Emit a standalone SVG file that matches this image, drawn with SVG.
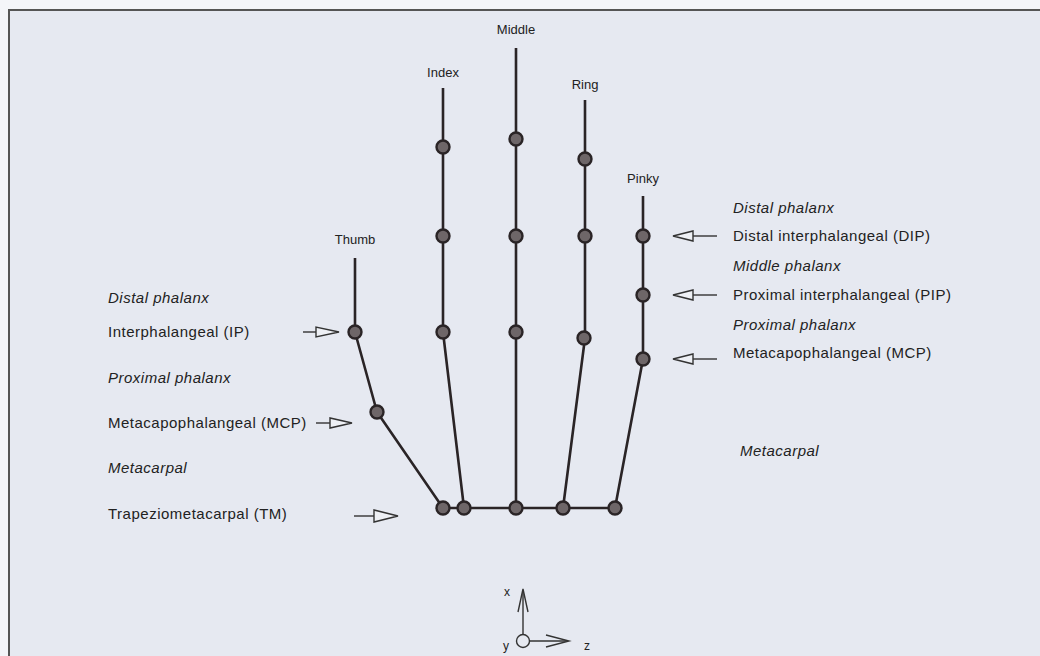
<svg xmlns="http://www.w3.org/2000/svg" width="1040" height="656" viewBox="0 0 1040 656">
<style>
text{font-family:"Liberation Sans",Arial,sans-serif;fill:#222;}
.lab{font-size:15px;letter-spacing:0.5px;}
.it{font-style:italic;}
.fin{font-size:13px;text-anchor:middle;}
.ax{font-size:12px;}
.bone{stroke:#2a2426;stroke-width:2.6;fill:none;stroke-linejoin:round;}
.jt{fill:#6e6668;stroke:#2a2426;stroke-width:2.4;}
.arr{stroke:#333;stroke-width:1.4;fill:none;}
.tri{stroke:#333;stroke-width:1.4;fill:#eef0f5;}
</style>
<rect x="0" y="0" width="1040" height="656" fill="#f4f5f9"/>
<rect x="9" y="10" width="1040" height="660" fill="#e6e9f1" stroke="#555" stroke-width="2"/>
<g id="connectors">
<polyline class="bone" points="355,258 355,332 377,412 443,508"/>
<polyline class="bone" points="443,88 443,332 464,508"/>
<polyline class="bone" points="516,48 516,508"/>
<polyline class="bone" points="585,100 585,338 563,508"/>
<polyline class="bone" points="643,196 643,359 615,508"/>
<line class="bone" x1="443" y1="508" x2="615" y2="508"/>
</g>
<g id="thumb">
<text class="fin" x="355" y="244">Thumb</text>
<circle class="jt" cx="355" cy="332" r="6.5"/>
<circle class="jt" cx="377" cy="412" r="6.5"/>
<circle class="jt" cx="443" cy="508" r="6.5"/>
</g>
<g id="index">
<text class="fin" x="443" y="77">Index</text>
<circle class="jt" cx="443" cy="147" r="6.5"/>
<circle class="jt" cx="443" cy="236" r="6.5"/>
<circle class="jt" cx="443" cy="332" r="6.5"/>
<circle class="jt" cx="464" cy="508" r="6.5"/>
</g>
<g id="middle">
<text class="fin" x="516" y="34">Middle</text>
<circle class="jt" cx="516" cy="139" r="6.5"/>
<circle class="jt" cx="516" cy="236" r="6.5"/>
<circle class="jt" cx="516" cy="332" r="6.5"/>
<circle class="jt" cx="516" cy="508" r="6.5"/>
</g>
<g id="ring">
<text class="fin" x="585" y="89">Ring</text>
<circle class="jt" cx="585" cy="159" r="6.5"/>
<circle class="jt" cx="585" cy="236" r="6.5"/>
<circle class="jt" cx="584" cy="338" r="6.5"/>
<circle class="jt" cx="563" cy="508" r="6.5"/>
</g>
<g id="pinky">
<text class="fin" x="643" y="183">Pinky</text>
<circle class="jt" cx="643" cy="236" r="6.5"/>
<circle class="jt" cx="643" cy="295" r="6.5"/>
<circle class="jt" cx="643" cy="359" r="6.5"/>
<circle class="jt" cx="615" cy="508" r="6.5"/>
</g>
<g id="left-labels">
<text class="lab it" x="108" y="303">Distal phalanx</text>
<text class="lab" x="108" y="337">Interphalangeal (IP)</text>
<text class="lab it" x="108" y="383">Proximal phalanx</text>
<text class="lab" x="108" y="428">Metacapophalangeal (MCP)</text>
<text class="lab it" x="108" y="473">Metacarpal</text>
<text class="lab" x="108" y="519">Trapeziometacarpal (TM)</text>
</g>
<g id="left-arrows">
<line class="arr" x1="303" y1="332" x2="316" y2="332"/>
<polygon class="tri" points="316,327 316,337 339,332"/>
<line class="arr" x1="316" y1="423" x2="330" y2="423"/>
<polygon class="tri" points="330,418 330,428 352,423"/>
<line class="arr" x1="354" y1="516" x2="374" y2="516"/>
<polygon class="tri" points="374,510 374,522 398,516"/>
</g>
<g id="right-labels">
<text class="lab it" x="733" y="213">Distal phalanx</text>
<text class="lab" x="733" y="241">Distal interphalangeal (DIP)</text>
<text class="lab it" x="733" y="271">Middle phalanx</text>
<text class="lab" x="733" y="300">Proximal interphalangeal (PIP)</text>
<text class="lab it" x="733" y="330">Proximal phalanx</text>
<text class="lab" x="733" y="358">Metacapophalangeal (MCP)</text>
<text class="lab it" x="740" y="456">Metacarpal</text>
</g>
<g id="right-arrows">
<line class="arr" x1="693" y1="236" x2="717" y2="236"/>
<polygon class="tri" points="693,231 693,241 673,236"/>
<line class="arr" x1="693" y1="295" x2="717" y2="295"/>
<polygon class="tri" points="693,290 693,300 673,295"/>
<line class="arr" x1="693" y1="359" x2="717" y2="359"/>
<polygon class="tri" points="693,354 693,364 673,359"/>
</g>
<g id="axes">
<line class="arr" x1="523" y1="635" x2="523" y2="590"/>
<polyline class="arr" points="518,612 523,589 528,612"/>
<circle cx="523" cy="641" r="6.5" fill="none" stroke="#333" stroke-width="1.4"/>
<line class="arr" x1="529" y1="641" x2="568" y2="641"/>
<polyline class="arr" points="546,635 569,641 546,647"/>
<text class="ax" x="504" y="596">x</text>
<text class="ax" x="503" y="650">y</text>
<text class="ax" x="584" y="650">z</text>
</g>
</svg>
